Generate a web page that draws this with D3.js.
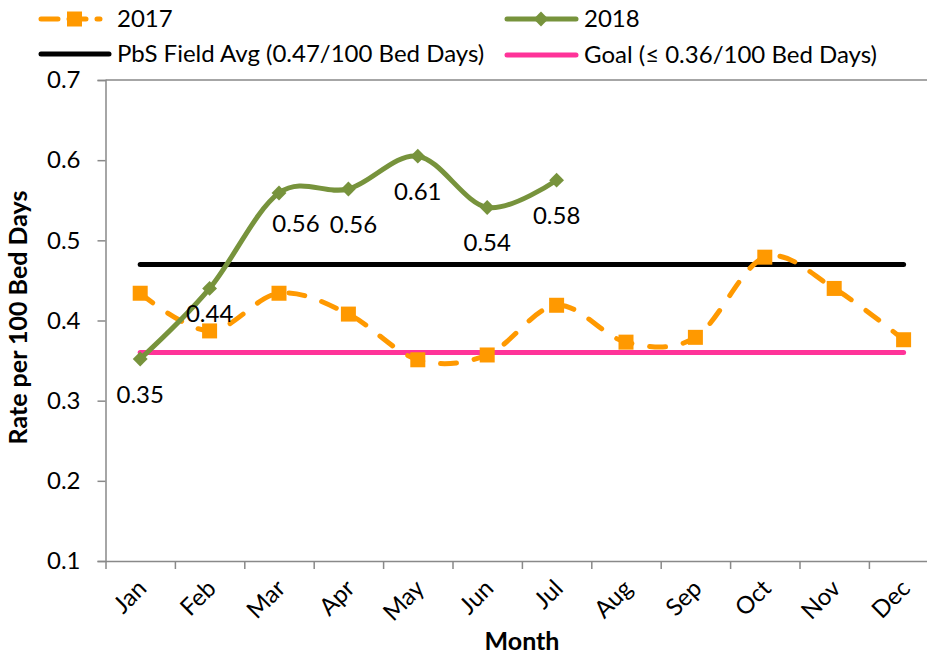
<!DOCTYPE html>
<html>
<head>
<meta charset="utf-8">
<script src="https://cdn.jsdelivr.net/npm/d3@7"></script>
<style>
  html, body { margin: 0; padding: 0; background: #fff; }
  svg { display: block; font-family: Lato, "Noto Sans", sans-serif; }
</style>
</head>
<body>
<svg id="chart" width="927" height="656"></svg>
<script>
// ---- data ----
const months = ["Jan","Feb","Mar","Apr","May","Jun","Jul","Aug","Sep","Oct","Nov","Dec"];
const values2017 = [0.434, 0.387, 0.434, 0.408, 0.351, 0.357, 0.419, 0.373, 0.379, 0.479, 0.440, 0.376];
const values2018 = [0.352, 0.440, 0.559, 0.564, 0.605, 0.541, 0.575];
const labels2018 = ["0.35","0.44","0.56","0.56","0.61","0.54","0.58"];
const fieldAvg = 0.47;
const goal = 0.36;
const yTicks = [0.1, 0.2, 0.3, 0.4, 0.5, 0.6, 0.7];
const seriesNames = ["2017", "2018", "PbS Field Avg (0.47/100 Bed Days)", "Goal (\u2264 0.36/100 Bed Days)"];

// label nudges (layout only)
const labelNudge = [[0,0],[0,-10],[17,-5],[5,0],[0,0],[0,0],[0,0]];

// ---- layout ----
const svg = d3.select("#chart");
const plotL = 105.5, plotT = 80, plotB = 561;
const bandW = 69.4;
const plotR = plotL + bandW * months.length;
const axisColor = "#898989";
const cOrange = "#FF9900", cGreen = "#77933C", cPink = "#FF3399";
const fs = 24;

const x = d3.scaleBand().domain(months).range([plotL, plotR]).paddingInner(0).paddingOuter(0);
const xc = m => x(m) + x.bandwidth() / 2;
const y = d3.scaleLinear().domain([0.1, 0.7]).range([plotB, plotT]);

// top border
svg.append("line").attr("x1", plotL).attr("x2", plotR).attr("y1", plotT).attr("y2", plotT)
  .attr("stroke", axisColor).attr("stroke-width", 1.5);

// y axis
const yAxis = d3.axisLeft(y).tickValues(yTicks).tickFormat(d3.format(".1f")).tickSize(8).tickPadding(17);
const gy = svg.append("g").attr("transform", `translate(${plotL},0)`).call(yAxis);
gy.select(".domain").attr("stroke", axisColor).attr("stroke-width", 1.5);
gy.selectAll(".tick line").attr("stroke", axisColor).attr("stroke-width", 1.5);
gy.selectAll(".tick text").attr("font-size", fs).attr("font-family", "Lato").attr("fill", "#000");

// x axis (ticks between categories)
const xIdx = d3.scaleLinear().domain([0, months.length]).range([plotL, plotR]);
const xAxis = d3.axisBottom(xIdx).tickValues(d3.range(0, months.length + 1)).tickFormat("").tickSize(8).tickSizeOuter(0);
const gx = svg.append("g").attr("transform", `translate(0,${plotB})`).call(xAxis);
gx.select(".domain").attr("stroke", axisColor).attr("stroke-width", 1.5);
gx.selectAll(".tick line").attr("stroke", axisColor).attr("stroke-width", 1.5);

svg.append("g").selectAll("text").data(months).join("text")
  .attr("transform", d => `translate(${xc(d) - 4},${plotB + 17}) rotate(-45)`)
  .attr("text-anchor", "end").attr("dy", "0.7em")
  .attr("font-size", fs).text(d => d);

// axis titles
svg.append("text").attr("transform", `translate(27,${(plotT + plotB) / 2 - 3}) rotate(-90)`)
  .attr("text-anchor", "middle").attr("font-size", 25).attr("font-weight", "bold").text("Rate per 100 Bed Days");
svg.append("text").attr("x", 522).attr("y", 650).attr("text-anchor", "middle")
  .attr("font-size", 25).attr("font-weight", "bold").text("Month");

// reference lines
svg.append("line").attr("x1", xc(months[0])).attr("x2", xc(months[months.length - 1]))
  .attr("y1", y(fieldAvg)).attr("y2", y(fieldAvg))
  .attr("stroke", "#000").attr("stroke-width", 5).attr("stroke-linecap", "round");
svg.append("line").attr("x1", xc(months[0])).attr("x2", xc(months[months.length - 1]))
  .attr("y1", y(goal)).attr("y2", y(goal))
  .attr("stroke", cPink).attr("stroke-width", 5).attr("stroke-linecap", "round");

const line = d3.line().x((d, i) => xc(months[i])).y(d => y(d)).curve(d3.curveCardinal.tension(0));

// 2017
svg.append("path").datum(values2017).attr("d", line).attr("fill", "none")
  .attr("stroke", cOrange).attr("stroke-width", 5).attr("stroke-dasharray", "16 18").attr("stroke-linecap", "round");
svg.append("g").selectAll("rect").data(values2017).join("rect")
  .attr("x", (d, i) => xc(months[i]) - 7.5).attr("y", d => y(d) - 7.5)
  .attr("width", 15).attr("height", 15).attr("fill", cOrange);

// 2018
svg.append("path").datum(values2018).attr("d", line).attr("fill", "none")
  .attr("stroke", cGreen).attr("stroke-width", 5).attr("stroke-linecap", "round");
const diamond = d3.symbol().type(d3.symbolSquare).size(110);
svg.append("g").selectAll("path").data(values2018).join("path")
  .attr("d", diamond)
  .attr("transform", (d, i) => `translate(${xc(months[i])},${y(d)}) rotate(45)`)
  .attr("fill", cGreen);
svg.append("g").selectAll("text").data(values2018).join("text")
  .attr("x", (d, i) => xc(months[i]) + labelNudge[i][0])
  .attr("y", (d, i) => y(d) + 44 + labelNudge[i][1])
  .attr("text-anchor", "middle").attr("font-size", fs).text((d, i) => labels2018[i]);

// legend
const lg = svg.append("g");
lg.append("line").attr("x1", 41).attr("x2", 100).attr("y1", 19).attr("y2", 19)
  .attr("stroke", cOrange).attr("stroke-width", 5).attr("stroke-dasharray", "17 11").attr("stroke-linecap", "round");
lg.append("rect").attr("x", 67).attr("y", 11.5).attr("width", 15).attr("height", 15).attr("fill", cOrange);
lg.append("text").attr("x", 117).attr("y", 27).attr("font-size", fs).text(seriesNames[0]);
lg.append("line").attr("x1", 507).attr("x2", 576).attr("y1", 19).attr("y2", 19)
  .attr("stroke", cGreen).attr("stroke-width", 5).attr("stroke-linecap", "round");
lg.append("path").attr("d", diamond).attr("transform", "translate(541,19) rotate(45)").attr("fill", cGreen);
lg.append("text").attr("x", 584).attr("y", 27).attr("font-size", fs).text(seriesNames[1]);
lg.append("line").attr("x1", 41).attr("x2", 109).attr("y1", 54).attr("y2", 54)
  .attr("stroke", "#000").attr("stroke-width", 5).attr("stroke-linecap", "round");
lg.append("text").attr("x", 117).attr("y", 62).attr("font-size", fs).text(seriesNames[2]);
lg.append("line").attr("x1", 507).attr("x2", 576).attr("y1", 55).attr("y2", 55)
  .attr("stroke", cPink).attr("stroke-width", 5).attr("stroke-linecap", "round");
lg.append("text").attr("x", 584).attr("y", 63).attr("font-size", fs).text(seriesNames[3]);
</script>
</body>
</html>
